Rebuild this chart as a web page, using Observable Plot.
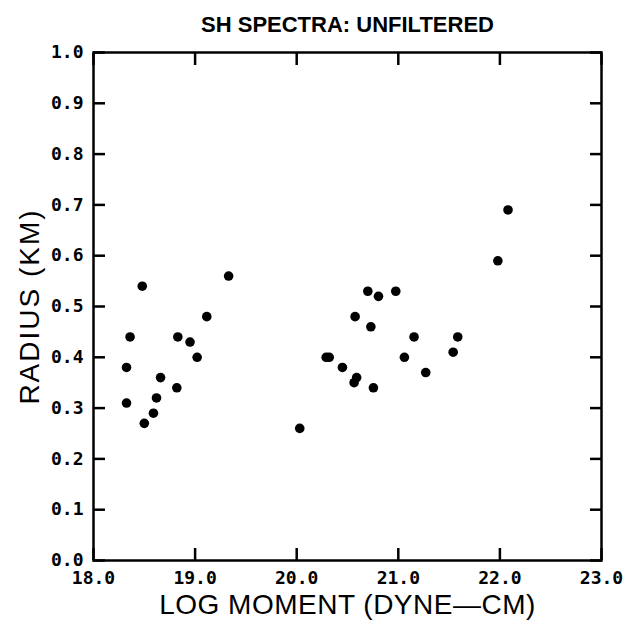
<!DOCTYPE html>
<html>
<head>
<meta charset="utf-8">
<script src="https://cdn.jsdelivr.net/npm/d3@7"></script>
<script src="https://cdn.jsdelivr.net/npm/@observablehq/plot@0.6"></script>
<style>
  html, body { margin: 0; padding: 0; background: #fff; }
  #chart svg { display: block; }
</style>
</head>
<body>
<div id="chart"></div>
<script>
const title = "SH SPECTRA: UNFILTERED";
const xLabel = "LOG MOMENT (DYNE\u2014CM)";
const yLabel = "RADIUS (KM)";

const logMoment = [18.48, 19.33, 19.115, 18.36, 18.83, 18.95, 19.02, 18.325, 18.66, 18.82, 18.62, 18.325, 18.59, 18.50,
  20.70, 20.805, 20.975, 20.575, 20.73, 21.155, 21.585, 20.29, 20.32, 21.06, 21.54, 20.45, 21.27, 20.59, 20.565, 20.755, 20.03,
  22.08, 21.98];
const radius = [0.54, 0.56, 0.48, 0.44, 0.44, 0.43, 0.40, 0.38, 0.36, 0.34, 0.32, 0.31, 0.29, 0.27,
  0.53, 0.52, 0.53, 0.48, 0.46, 0.44, 0.44, 0.40, 0.40, 0.40, 0.41, 0.38, 0.37, 0.36, 0.35, 0.34, 0.26,
  0.69, 0.59];

const xTicks = [18, 19, 20, 21, 22, 23];
const yTicks = [0, 0.1, 0.2, 0.3, 0.4, 0.5, 0.6, 0.7, 0.8, 0.9, 1.0];

const pts = logMoment.map((x, i) => ({x, y: radius[i]}));
const tk = 12;
const tickFont = {fontFamily: "DejaVu Sans Mono", fontWeight: "bold", fontSize: 18};
const tickStyle = {stroke: "#000", strokeWidth: 2.5, tickFormat: () => "", label: null};

const chart = Plot.plot({
  width: 630,
  height: 631,
  marginLeft: 93,
  marginRight: 29,
  marginTop: 52,
  marginBottom: 71,
  style: {background: "#fff", color: "#000", fontFamily: "Liberation Sans"},
  x: {domain: [18, 23]},
  y: {domain: [0, 1]},
  marks: [
    Plot.frame({stroke: "#000", strokeWidth: 2.5}),
    // inward tick marks: axes shifted into the frame, ticks only
    Plot.axisY(yTicks, {anchor: "left", tickSize: tk, dx: tk, ...tickStyle}),
    Plot.axisY(yTicks, {anchor: "right", tickSize: tk, dx: -tk, ...tickStyle}),
    Plot.axisX(xTicks, {anchor: "bottom", tickSize: tk, dy: -tk, ...tickStyle}),
    Plot.axisX(xTicks, {anchor: "top", tickSize: tk, dy: tk, ...tickStyle}),
    // tick labels
    Plot.axisY(yTicks, {anchor: "left", tickSize: 0, tickPadding: 10, tickFormat: d3.format(".1f"), label: null, ...tickFont}),
    Plot.axisX(xTicks, {anchor: "bottom", tickSize: 0, tickPadding: 11, tickFormat: d3.format(".1f"), label: null, ...tickFont}),
    // data
    Plot.dot(pts, {x: "x", y: "y", r: 4.8, fill: "#000", stroke: "none"}),
    // title and axis labels
    Plot.text([title], {frameAnchor: "top", dy: -36, fontSize: 22, fontWeight: "bold", fontFamily: "Liberation Sans", text: d => d}),
    Plot.text([xLabel], {frameAnchor: "bottom", dy: 53, fontSize: 28, fontFamily: "Liberation Sans", text: d => d}),
    Plot.text([yLabel], {frameAnchor: "left", textAnchor: "middle", dx: -63, rotate: -90, fontSize: 28, fontFamily: "Liberation Sans", text: d => d})
  ]
});
chart.querySelectorAll("text").forEach(t => {
  if (t.textContent === yLabel) t.setAttribute("letter-spacing", "2");
  if (t.textContent === xLabel) t.setAttribute("letter-spacing", "0.5");
});
document.getElementById("chart").appendChild(chart);
</script>
</body>
</html>
